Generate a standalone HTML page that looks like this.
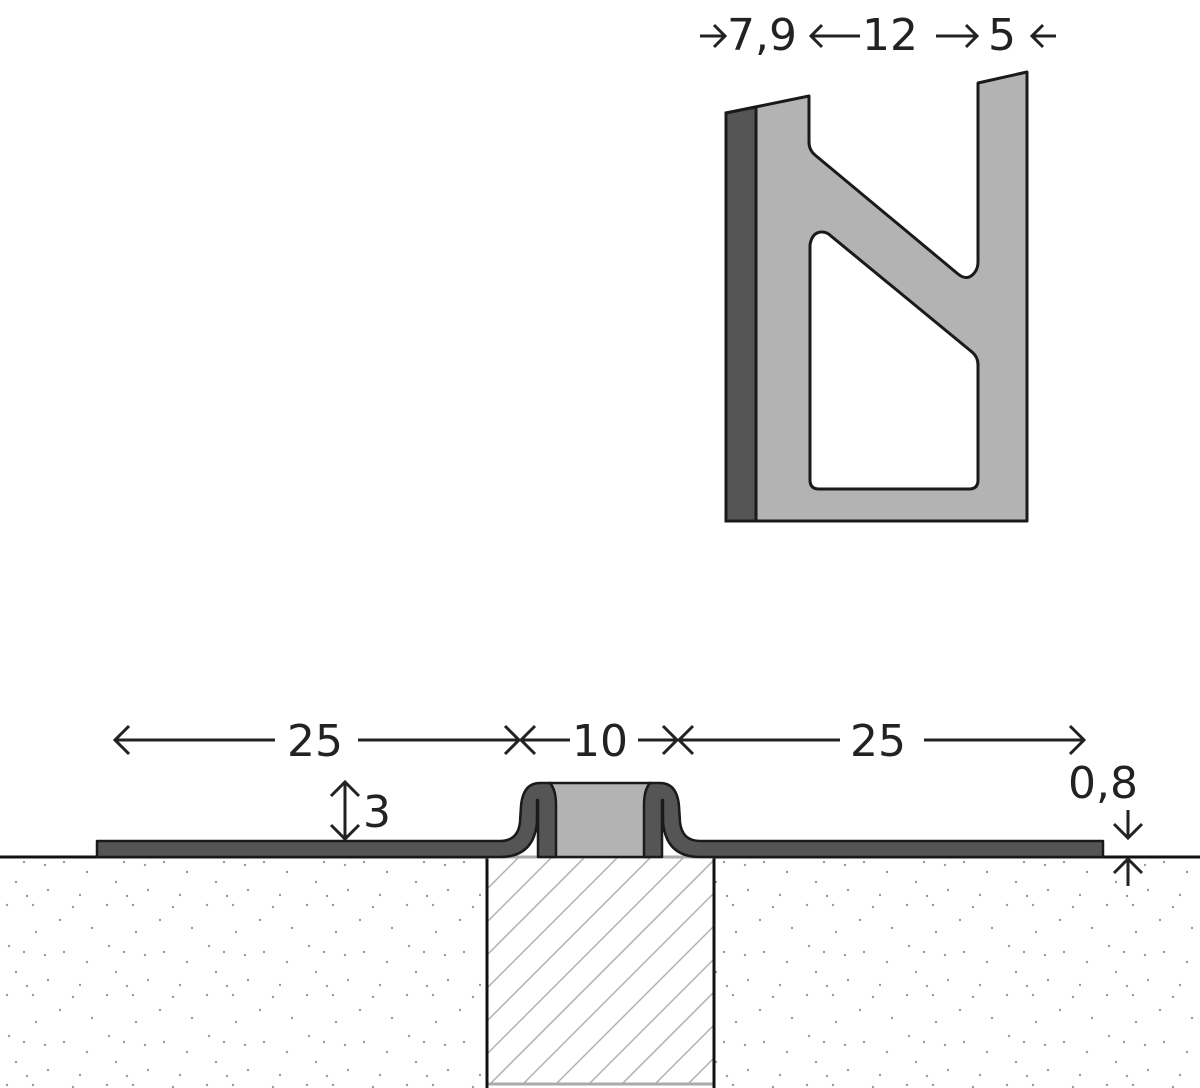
<!DOCTYPE html>
<html><head><meta charset="utf-8"><style>
html,body{margin:0;padding:0;background:#fff;}
svg{display:block;}
text{font-family:"DejaVu Sans","Liberation Sans",sans-serif;fill:#222;}
</style></head><body>
<svg width="1200" height="1088" viewBox="0 0 1200 1088" xmlns="http://www.w3.org/2000/svg">
<defs>
<pattern id="dots" x="0" y="0" width="100" height="90" patternUnits="userSpaceOnUse">
<g fill="#999">
<circle cx="7" cy="5" r="1.2"/><circle cx="33" cy="5" r="1.2"/><circle cx="73" cy="7" r="1.2"/>
<circle cx="36" cy="32" r="1.2"/><circle cx="9" cy="46" r="1.2"/><circle cx="64" cy="52" r="1.2"/>
<circle cx="16" cy="72" r="1.2"/><circle cx="48" cy="80" r="1.2"/><circle cx="87" cy="62" r="1.2"/>
<circle cx="92" cy="28" r="1.2"/><circle cx="60" cy="20" r="1.2"/><circle cx="27" cy="86" r="1.2"/>
<circle cx="80" cy="85" r="1.2"/><circle cx="45" cy="55" r="1.2"/><circle cx="24" cy="52" r="1.2"/>
</g>
</pattern>
<pattern id="hatch" x="486" y="857" width="33" height="33" patternUnits="userSpaceOnUse">
<path d="M0,33 L33,0 M-6,6 L6,-6 M27,39 L39,27" stroke="#b0b0b0" stroke-width="1.5"/>
</pattern>
</defs>

<path d="M726,113 L809,96 L809,142 Q809,150 815,155 L958,274 Q968,282 975,272 Q978,268 978,262 L978,83 L1027,72 L1027,521 L726,521 Z" fill="#b3b3b3" stroke="#1a1a1a" stroke-width="3" stroke-linejoin="round"/>
<path d="M810,245 Q812,232 822,232 Q827,232 831,236 L972,352 Q978,357 978,365 L978,480 Q978,489 969,489 L819,489 Q810,489 810,480 Z" fill="#fff" stroke="#1a1a1a" stroke-width="3"/>
<path d="M726,113 L756,107 L756,521 L726,521 Z" fill="#555" stroke="#1a1a1a" stroke-width="3"/>

<text x="727" y="50" font-size="44">7,9</text>
<text x="862" y="50" font-size="44">12</text>
<text x="988" y="50" font-size="44">5</text>
<g fill="none" stroke="#222" stroke-width="3">
<path d="M700,36 L725,36 M714,25 L725,36 L714,47"/>
<path d="M860,36 L811,36 M822,25 L811,36 L822,47"/>
<path d="M936,36 L977,36 M966,25 L977,36 L966,47"/>
<path d="M1056,36 L1032,36 M1043,25 L1032,36 L1043,47"/>
</g>

<rect x="0" y="858" width="486" height="230" fill="url(#dots)"/>
<rect x="714" y="858" width="486" height="230" fill="url(#dots)"/>
<rect x="486" y="857" width="228" height="228" fill="url(#hatch)"/>
<line x1="486" y1="1084" x2="714" y2="1084" stroke="#aaa" stroke-width="3"/>
<line x1="487" y1="857" x2="487" y2="1088" stroke="#111" stroke-width="3"/>
<line x1="714" y1="857" x2="714" y2="1088" stroke="#111" stroke-width="3"/>
<line x1="0" y1="857" x2="1200" y2="857" stroke="#111" stroke-width="3"/>
<line x1="486" y1="857" x2="714" y2="857" stroke="#aaa" stroke-width="3"/>

<rect x="550" y="783" width="100" height="74" fill="#b3b3b3" stroke="#1a1a1a" stroke-width="2.5"/>
<path d="M97,841 L500,841 Q518,841 520,822 L521,806 Q523,783 540,783 L550,783 Q556,790 556,805 L556,857 L538,857 L538,800 L537,800 L537,822 Q534,857 500,857 L97,857 Z" fill="#555" stroke="#1a1a1a" stroke-width="2.5" stroke-linejoin="round"/>
<path d="M1103,841 L700,841 Q682,841 680,822 L679,806 Q677,783 660,783 L650,783 Q644,790 644,805 L644,857 L662,857 L662,800 L663,800 L663,822 Q666,857 700,857 L1103,857 Z" fill="#555" stroke="#1a1a1a" stroke-width="2.5" stroke-linejoin="round"/>

<g fill="none" stroke="#222" stroke-width="3">
<path d="M115,740 L275,740 M129,726 L115,740 L129,754"/>
<path d="M358,740 L519,740 M505,726 L519,740 L505,754"/>
<path d="M521,740 L570,740 M535,726 L521,740 L535,754"/>
<path d="M638,740 L677,740 M663,726 L677,740 L663,754"/>
<path d="M679,740 L840,740 M693,726 L679,740 L693,754"/>
<path d="M924,740 L1084,740 M1070,726 L1084,740 L1070,754"/>
<path d="M345,782 L345,839 M331,796 L345,782 L359,796 M331,825 L345,839 L359,825"/>
<path d="M1128,810 L1128,838 M1114,824 L1128,838 L1142,824"/>
<path d="M1128,886 L1128,859 M1114,873 L1128,859 L1142,873"/>
</g>
<text x="287" y="756" font-size="44">25</text>
<text x="572" y="756" font-size="44">10</text>
<text x="850" y="756" font-size="44">25</text>
<text x="363" y="827" font-size="44">3</text>
<text x="1068" y="798" font-size="44">0,8</text>
</svg>
</body></html>
